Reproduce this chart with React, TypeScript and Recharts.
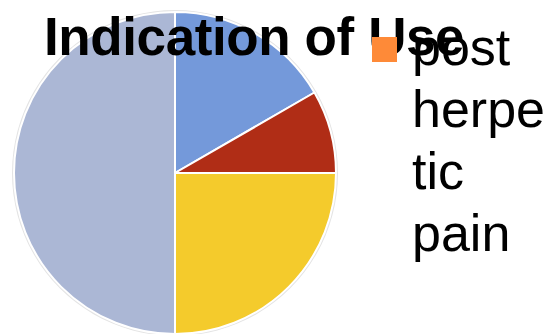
import { PieChart, Pie, Cell } from "recharts";

const categories = ["post herpetic pain", "diabetic neuropathy", "fibromyalgia", "other"];
const values = [2, 1, 3, 6];
const sliceColors = ["#7499DA", "#B02D16", "#F4CB2C", "#ABB7D5"];
const legendLabels = ["post herpetic pain"];
const legendColors = ["#FE8A38"];

const data = categories.map((name, i) => ({ name, value: values[i] }));
const ring = [{ name: "ring", value: 1 }];

const LegendBox = () => (
  <div style={{ fontFamily: "'Liberation Sans', Arial, sans-serif" }}>
    {legendLabels.map((label, i) => (
      <div key={label} style={{ position: "relative", paddingLeft: 40 }}>
        <span
          style={{
            position: "absolute",
            left: 0,
            top: 21,
            width: 25,
            height: 25,
            background: legendColors[i],
          }}
        />
        <span
          style={{
            display: "block",
            width: 140,
            fontSize: 52,
            lineHeight: "62px",
            color: "#000",
            overflowWrap: "anywhere",
          }}
        >
          {label}
        </span>
      </div>
    ))}
  </div>
);

export default function App() {
  return (
    <div style={{ position: "absolute", left: 0, top: 0, width: 548, height: 334, background: "#fff", overflow: "hidden" }}>
      <PieChart width={548} height={334} margin={{ top: 0, right: 0, bottom: 0, left: 0 }}>
        <Pie
          data={ring}
          dataKey="value"
          cx={175}
          cy={173}
          innerRadius={159}
          outerRadius={163}
          startAngle={90}
          endAngle={-270}
          stroke="none"
          fill="#E4E4E4"
          isAnimationActive={false}
        />
        <Pie
          data={data}
          dataKey="value"
          nameKey="name"
          cx={175}
          cy={173}
          outerRadius={161}
          startAngle={90}
          endAngle={-270}
          stroke="#fff"
          strokeWidth={2}
          isAnimationActive={false}
        >
          {data.map((d, i) => (
            <Cell key={d.name} fill={sliceColors[i]} />
          ))}
        </Pie>
      </PieChart>
      <div
        style={{
          position: "absolute",
          left: 44,
          top: 10,
          fontFamily: "'Liberation Sans', Arial, sans-serif",
          fontWeight: "bold",
          fontSize: 53,
          lineHeight: "53px",
          letterSpacing: -0.4,
          color: "#000",
          whiteSpace: "nowrap",
        }}
      >
        Indication of Use
      </div>
      <div style={{ position: "absolute", left: 372, top: 16 }}>
        <LegendBox />
      </div>
    </div>
  );
}
